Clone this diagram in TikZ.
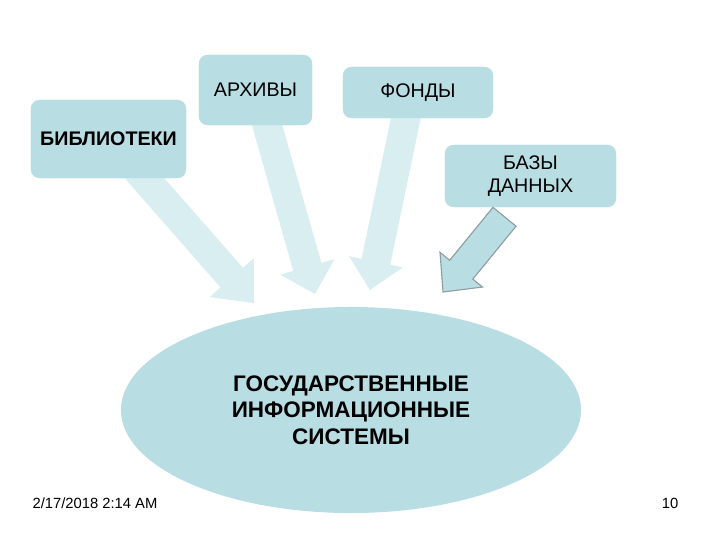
\documentclass[tikz,border=0pt]{standalone}
\usepackage{fontspec}
\setmainfont{Liberation Sans}
\usetikzlibrary{calc, shapes.geometric}

\definecolor{boxblue}{HTML}{B8DDE3}
\definecolor{paleblue}{HTML}{D8EEF0}
\definecolor{edgegray}{HTML}{8E9D9F}

% block arrow: style, tail, tip, half shaft, half head, head length
\newcommand{\blockarrow}[6]{%
  \coordinate (bs) at #2;
  \coordinate (bt) at #3;
  \coordinate (bh) at ($(bt)!#6!(bs)$);
  \filldraw[#1] ($(bs)!#4!90:(bt)$) -- ($(bh)!#4!90:(bt)$) -- ($(bh)!#5!90:(bt)$)
    -- (bt) -- ($(bh)!#5!-90:(bt)$) -- ($(bh)!#4!-90:(bt)$) -- ($(bs)!#4!-90:(bt)$) -- cycle;
}

\tikzset{
  srcbox/.style={fill=boxblue, rounded corners=6pt, align=center, font=\fontsize{14}{16}\selectfont},
  palearrow/.style={fill=paleblue, draw=none},
  darkarrow/.style={fill=boxblue, draw=edgegray, line width=0.8pt, line join=miter}
}

\begin{document}
\begin{tikzpicture}[x=0.025cm, y=-0.025cm]
  \useasboundingbox (0,0) rectangle (720,540);

  % boxes (positions only, drawn after arrows)
  \path (108.5,139) node[srcbox, minimum width=3.875cm, minimum height=1.95cm] (lib) {};
  \path (255.5,90) node[srcbox, minimum width=2.825cm, minimum height=1.75cm] (arch) {};
  \path (418,92.5) node[srcbox, minimum width=3.75cm, minimum height=1.275cm] (fonds) {};
  \path (530.5,176) node[srcbox, minimum width=4.275cm, minimum height=1.55cm] (base) {};

  % arrow ends
  \coordinate (libtip) at (254,303);
  \coordinate (archtip) at (315,294);
  \coordinate (fondstip) at (370,290);
  \coordinate (basetip) at (443,292);

  % arrows
  \blockarrow{palearrow}{($(lib.south)+(16,-23)$)}{(libtip)}{10.6pt}{21pt}{24pt}
  \blockarrow{palearrow}{($(arch.south)+(6,-20)$)}{(archtip)}{10.4pt}{20pt}{20pt}
  \blockarrow{palearrow}{($(fonds.south)+(-8,-20)$)}{(fondstip)}{10.4pt}{19.5pt}{20.5pt}

  % source boxes
  \node[srcbox, minimum width=3.875cm, minimum height=1.95cm] at (lib) {\textbf{БИБЛИОТЕКИ}};
  \node[srcbox, minimum width=2.825cm, minimum height=1.75cm] at (arch) {АРХИВЫ};
  \node[srcbox, minimum width=3.75cm, minimum height=1.275cm] at (fonds) {ФОНДЫ};
  \node[srcbox, minimum width=4.275cm, minimum height=1.55cm] at (base) {БАЗЫ\\ДАННЫХ};

  \blockarrow{darkarrow}{($(base.south)+(-26,9.5)$)}{(basetip)}{10.6pt}{19.5pt}{20.5pt}

  % target
  \node[ellipse, fill=boxblue, minimum width=11.5cm, minimum height=5.15cm, align=center,
        font=\bfseries\fontsize{16}{19}\selectfont] (gis) at (351,410)
        {ГОСУДАРСТВЕННЫЕ\\ИНФОРМАЦИОННЫЕ\\СИСТЕМЫ};

  % footer
  \node[font=\fontsize{10.5}{12}\selectfont] (date) at (95,503) {2/17/2018 2:14 AM};
  \node[font=\fontsize{10.5}{12}\selectfont] (page) at (670,503) {10};
\end{tikzpicture}
\end{document}
